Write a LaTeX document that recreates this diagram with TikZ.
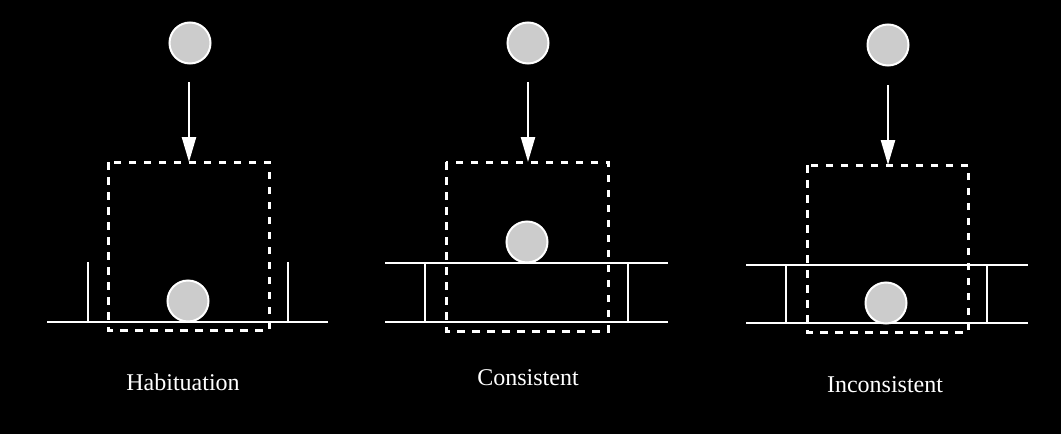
\documentclass[tikz,border=0pt]{standalone}
\usepackage{fontspec}
\setmainfont{Liberation Serif}
\usetikzlibrary{arrows.meta}
\begin{document}
\begin{tikzpicture}[x=1pt,y=-1pt,
  ball/.style={circle,draw=white,line width=2pt,fill=black!20,minimum size=41pt,inner sep=0pt},
  solid line/.style={draw=white,line width=2.6pt},
  dashbox/.style={draw=white,line width=3pt,dash pattern=on 7.5pt off 7.5pt},
  fall/.style={draw=white,line width=2.4pt,-{Triangle[length=25pt,width=14pt]}},
  label/.style={text=white,font=\fontsize{24}{28}\selectfont}]
\fill[black] (0,0) rectangle (1061,434);
\useasboundingbox (0,0) rectangle (1061,434);
% Panel 1: Habituation
\node[ball] (b1) at (190,43) {};
\coordinate (a1s) at (189,82);
\draw[dashbox] (108,162) rectangle (269,330);
\coordinate (a1e) at (189,162);
\draw[fall] (a1s) -- (a1e);
\coordinate (g1l) at (47,322);
\coordinate (g1r) at (328,322);
\draw[solid line] (g1l) -- (g1r);
\draw[solid line] (88,262) -- (88,322);
\draw[solid line] (288,262) -- (288,322);
\node[ball] (c1) at (188,301) {};
\node[label] (t1) at (183,382) {Habituation};
% Panel 2: Consistent
\node[ball] (b2) at (528,43) {};
\coordinate (a2s) at (528,82);
\draw[dashbox] (446,162) rectangle (608,331);
\coordinate (a2e) at (528,162);
\draw[fall] (a2s) -- (a2e);
\draw[solid line] (385,263) -- (668,263);
\draw[solid line] (385,322) -- (668,322);
\draw[solid line] (425,263) -- (425,322);
\draw[solid line] (628,263) -- (628,322);
\node[ball] (c2) at (527,242) {};
\node[label] (t2) at (528,378) {Consistent};
% Panel 3: Inconsistent
\node[ball] (b3) at (888,45) {};
\coordinate (a3s) at (888,85);
\draw[dashbox] (807,165) rectangle (968,332);
\coordinate (a3e) at (888,165);
\draw[fall] (a3s) -- (a3e);
\draw[solid line] (746,265) -- (1028,265);
\draw[solid line] (746,323) -- (1028,323);
\draw[solid line] (786,265) -- (786,323);
\draw[solid line] (987,265) -- (987,323);
\node[ball] (c3) at (886,303) {};
\node[label] (t3) at (885,385) {Inconsistent};
\end{tikzpicture}
\end{document}
